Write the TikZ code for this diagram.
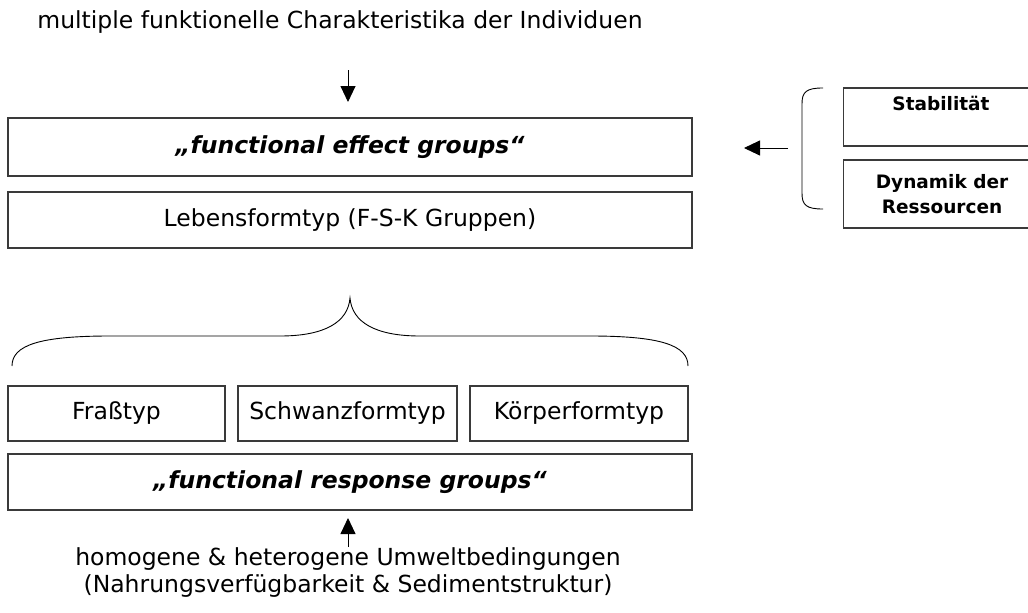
\documentclass[tikz,border=0pt]{standalone}
\usepackage{fontspec}
\setmainfont{DejaVu Sans}
\usetikzlibrary{arrows.meta}
\definecolor{framegray}{HTML}{3A3A3A}
\begin{document}
\begin{tikzpicture}[x=1pt,y=-1pt,
  txt/.style={font=\fontsize{23.5}{27}\selectfont,align=center,inner sep=0pt},
  box/.style={draw=framegray,line width=1.4pt,inner sep=0pt,
    font=\fontsize{23.5}{27}\selectfont,align=center},
  sidebox/.style={draw=framegray,line width=1.4pt,inner sep=0pt,
    font=\fontsize{18.5}{25}\selectfont\bfseries,align=center},
  arr/.style={line width=0.9pt,-{Triangle[width=15pt,length=16pt]}},
  curly/.style={line width=0.9pt}]
\useasboundingbox (0,0) rectangle (1028,613);
\clip (0,0) rectangle (1028,613);

% heading and top arrow
\node[txt] (head) at (340,22) {multiple funktionelle Charakteristika der Individuen};
\coordinate (topS) at (348,70);
\coordinate (topE) at (348,102);
\draw[arr] (topS) -- (topE);

% upper boxes
\node[box,minimum width=684,minimum height=58] (effect) at (350,147)
  {\bfseries\itshape „functional effect groups“};
\node[box,minimum width=684,minimum height=56] (life) at (350,220)
  {Lebensformtyp (F-S-K Gruppen)};

% brace over the three types
\coordinate (brL) at (12,366);
\coordinate (brR) at (688,366);
\coordinate (brM) at (350,298);
\draw[curly] (brL) .. controls (12,345) and (40,336) .. (110,336)
  -- (280,336) .. controls (325,336) and (348,322) .. (brM)
  .. controls (352,322) and (375,336) .. (420,336)
  -- (590,336) .. controls (660,336) and (688,345) .. (brR);

% three type boxes
\node[box,minimum width=217,minimum height=55] (frass) at (116.5,413.5) {Fraßtyp};
\node[box,minimum width=219,minimum height=55] (schwanz) at (347.5,413.5) {Schwanzformtyp};
\node[box,minimum width=218,minimum height=55] (koerper) at (579,413.5) {Körperformtyp};

% response box
\node[box,minimum width=684,minimum height=56] (response) at (350,482)
  {\bfseries\itshape „functional response groups“};

% bottom arrow and text
\coordinate (botS) at (348,547);
\coordinate (botE) at (348,518);
\draw[arr] (botS) -- (botE);
\node[txt] (cond) at (348,573)
  {homogene \& heterogene Umweltbedingungen\\(Nahrungsverfügbarkeit \& Sedimentstruktur)};

% side boxes
\node[sidebox,minimum width=197,minimum height=58] (stab) at (942,117) {};
\node[font=\fontsize{18.5}{25}\selectfont\bfseries,inner sep=0pt] (stabT) at (941,103) {Stabilität};
\node[sidebox,minimum width=197,minimum height=68] (dyn) at (942,194)
  {Dynamik der\\Ressourcen};

% side bracket and arrow
\coordinate (bkT) at (823,88);
\coordinate (bkB) at (823,209);
\draw[curly] (bkT) .. controls (806,88) and (802,92) .. (802,104)
  -- (802,193) .. controls (802,205) and (806,209) .. (bkB);
\coordinate (sideS) at (788,148);
\coordinate (sideE) at (744,148);
\draw[arr] (sideS) -- (sideE);
\end{tikzpicture}
\end{document}
